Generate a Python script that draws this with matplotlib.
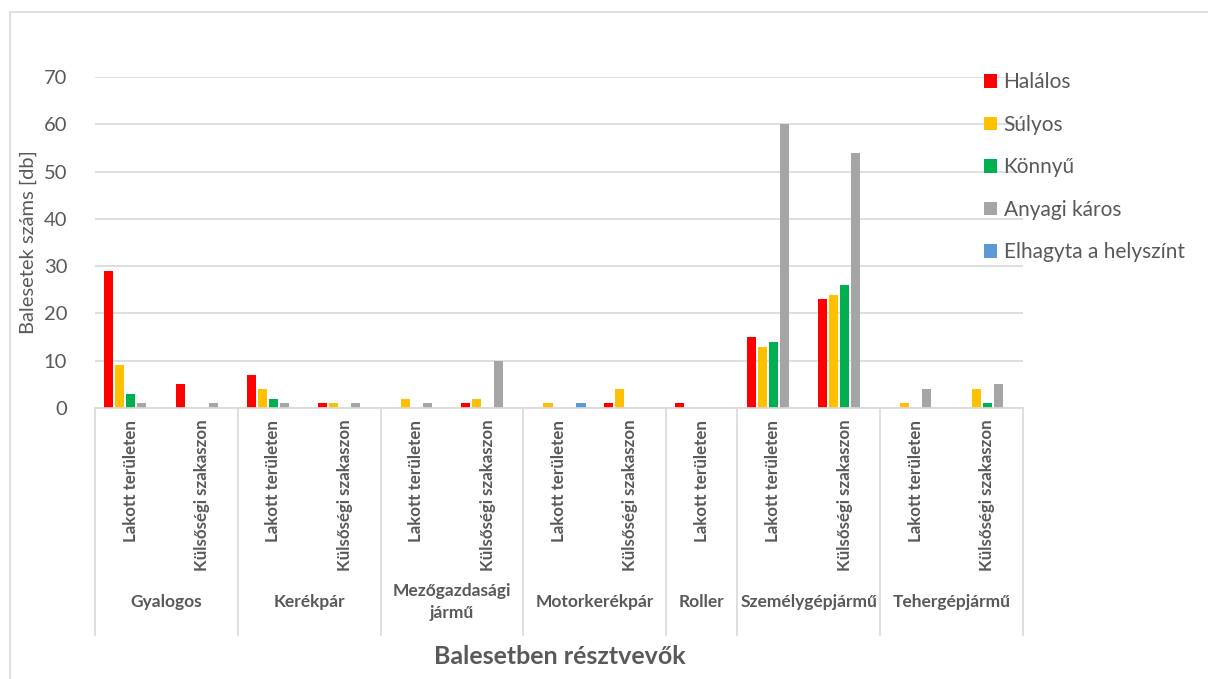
import matplotlib.pyplot as plt
import matplotlib.transforms as mtransforms
from matplotlib.patches import Rectangle

plt.rcParams['font.family'] = ['Lato', 'DejaVu Sans']

groups = ['Gyalogos', 'Kerékpár', 'Mezőgazdasági\njármű', 'Motorkerékpár',
          'Roller', 'Személygépjármű', 'Tehergépjármű']
subcats = [['Lakott területen', 'Külsőségi szakaszon'],
           ['Lakott területen', 'Külsőségi szakaszon'],
           ['Lakott területen', 'Külsőségi szakaszon'],
           ['Lakott területen', 'Külsőségi szakaszon'],
           ['Lakott területen'],
           ['Lakott területen', 'Külsőségi szakaszon'],
           ['Lakott területen', 'Külsőségi szakaszon']]

series = ['Halálos', 'Súlyos', 'Könnyű', 'Anyagi káros', 'Elhagyta a helyszínt']
halalos = [29, 5, 7, 1, 0, 1, 0, 1, 1, 15, 23, 0, 0]
sulyos = [9, 0, 4, 1, 2, 2, 1, 4, 0, 13, 24, 1, 4]
konnyu = [3, 0, 2, 0, 0, 0, 0, 0, 0, 14, 26, 0, 1]
anyagi = [1, 1, 1, 1, 1, 10, 0, 0, 0, 60, 54, 4, 5]
elhagyta = [0, 0, 0, 0, 0, 0, 1, 0, 0, 0, 0, 0, 0]
colors = ['#FF0000', '#FFC000', '#00B050', '#A5A5A5', '#5B9BD5']

grey_txt = '#595959'
grid_c = '#D9D9D9'

fig = plt.figure(figsize=(12.08, 6.79), dpi=100)
ax = fig.add_axes([95 / 1208, 1 - 408 / 679, 928 / 1208, 331 / 679])

n = sum(len(s) for s in subcats)
step = 0.154
width = 0.128
handles = []
for j, vals in enumerate([halalos, sulyos, konnyu, anyagi, elhagyta]):
    xs = [i + 0.5 + (j - 2) * step for i in range(n)]
    b = ax.bar(xs, vals, width=width, color=colors[j], label=series[j])
    handles.append(b)

ax.set_xlim(0, n)
ax.set_ylim(0, 70)
ax.set_yticks(range(0, 80, 10))
ax.yaxis.grid(True, color=grid_c, linewidth=1.2)
ax.set_axisbelow(True)
for s in ['top', 'right', 'left']:
    ax.spines[s].set_visible(False)
ax.spines['bottom'].set_color(grid_c)
ax.spines['bottom'].set_linewidth(1.2)
ax.tick_params(axis='y', length=0, pad=20, labelsize=14.5, labelcolor=grey_txt)
ax.tick_params(axis='x', length=0, labelbottom=False)
ax.set_ylabel('Balesetek száms [db]', fontsize=14.5, color=grey_txt, labelpad=5)

# multi-level category axis
trans = mtransforms.blended_transform_factory(ax.transData, ax.transAxes)
line_bottom = -(635 - 408) / 331
pos = 0
bounds = [0]
for g, subs in zip(groups, subcats):
    for k, s in enumerate(subs):
        ax.text(pos + k + 0.5, -0.035, s, rotation=90, ha='center', va='top',
                fontsize=12.2, fontweight='bold', color=grey_txt, transform=trans)
    ax.text(pos + len(subs) / 2, -0.585, g, ha='center', va='center',
            fontsize=12.5, fontweight='bold', color=grey_txt, transform=trans,
            linespacing=1.45)
    pos += len(subs)
    bounds.append(pos)
for b in bounds:
    ax.plot([b, b], [0, line_bottom], color=grid_c, linewidth=1.2,
            transform=trans, clip_on=False)

fig.text(560 / 1208, 1 - 657 / 679, 'Balesetben résztvevők', ha='center',
         va='center', fontsize=18, fontweight='bold', color=grey_txt)

leg = fig.legend(handles, series, loc='upper left',
                 bbox_to_anchor=(976 / 1208, 1 - 64 / 679), frameon=False,
                 fontsize=15, handlelength=0.62, handleheight=0.62,
                 handletextpad=0.3, labelspacing=1.08, borderaxespad=0)
for t in leg.get_texts():
    t.set_color(grey_txt)

fig.patches.append(Rectangle((10 / 1208, -0.1), 1.2, 1 - 12 / 679 + 0.1,
                             transform=fig.transFigure, fill=False,
                             edgecolor=grid_c, linewidth=1.2))

fig.savefig('out.png', dpi=100)
